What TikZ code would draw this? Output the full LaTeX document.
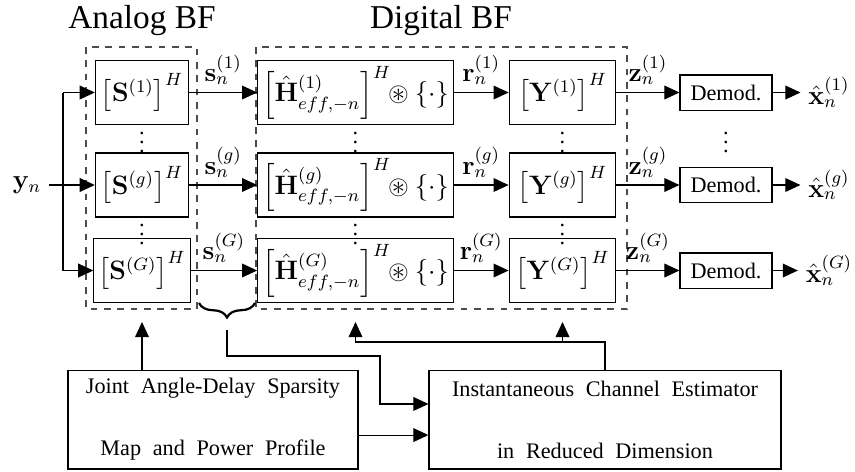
\documentclass[tikz,border=0pt]{standalone}
\usepackage{amsmath}
\usepackage{amssymb}
\usepackage{bm}
\usepackage[no-math]{fontspec}
\setmainfont{Liberation Serif}
\newfontfamily\widefont[WordSpace=2.1]{Liberation Serif}
\usetikzlibrary{arrows.meta,decorations.pathreplacing}

\begin{document}
\begin{tikzpicture}
  [x=0.45pt,y=-0.45pt,line width=0.5pt,>={Triangle[length=6.8pt,width=6.2pt]},
   blk/.style={draw,minimum height=28.8pt,inner sep=2pt,font=\large},
   dem/.style={draw,minimum width=41.4pt,minimum height=15.8pt,inner sep=1pt},
   bigblk/.style={draw,minimum height=44.5pt,align=center,font=\widefont},
   lbl/.style={font=\large}]
 \tikzset{dashbox/.style={draw=black!70,dashed}}

 \useasboundingbox (0,0) rectangle (855,471);

 % headers
 \node (abf) at (142,21) {\fontsize{15}{18}\selectfont Analog BF};
 \node (dbf) at (441,21) {\fontsize{15}{18}\selectfont Digital BF};
 \draw[dashbox] (86,47) rectangle (197,309);
 \draw[dashbox] (256,47) rectangle (627,309);

 % analog
 \node[blk,minimum width=42pt] (S1) at (142,92.5) {$\left[\mathbf{S}^{(1)}\right]^H$};
 \node[blk,minimum width=42pt] (Sg) at (142,185) {$\left[\mathbf{S}^{(g)}\right]^H$};
 \node[blk,minimum width=42pt] (SG) at (142,270.5) {$\left[\mathbf{S}^{(G)}\right]^H$};

 % digital
 \node[blk,minimum width=85pt] (H1) at (355.5,92.5) {$\left[\hat{\mathbf{H}}^{(1)}_{eff,-n}\right]^H\!\!\circledast\{\cdot\}$};
 \node[blk,minimum width=85pt] (Hg) at (355.5,185) {$\left[\hat{\mathbf{H}}^{(g)}_{eff,-n}\right]^H\!\!\circledast\{\cdot\}$};
 \node[blk,minimum width=85pt] (HG) at (355.5,270.5) {$\left[\hat{\mathbf{H}}^{(G)}_{eff,-n}\right]^H\!\!\circledast\{\cdot\}$};
 \node[blk,minimum width=48pt] (Y1) at (562.5,92.5) {$\left[\mathbf{Y}^{(1)}\right]^H$};
 \node[blk,minimum width=48pt] (Yg) at (562.5,185) {$\left[\mathbf{Y}^{(g)}\right]^H$};
 \node[blk,minimum width=48pt] (YG) at (562.5,270.5) {$\left[\mathbf{Y}^{(G)}\right]^H$};

 % demodulators
 \node[dem] (D1) at (726,92.5) {Demod.};
 \node[dem] (Dg) at (726,185) {Demod.};
 \node[dem] (DG) at (726,270.5) {Demod.};
 \node[lbl] (X1) at (829,92.5) {$\hat{\mathbf{x}}_n^{(1)}$};
 \node[lbl] (Xg) at (829,185) {$\hat{\mathbf{x}}_n^{(g)}$};
 \node[lbl] (XG) at (829,270.5) {$\hat{\mathbf{x}}_n^{(G)}$};

 % dots
 \foreach \c in {142,355.5,562.5}{
   \node (v1\c) at (\c,136) {$\vdots$};
   \node (v2\c) at (\c,228) {$\vdots$};
 }
 \node (vd) at (726,136) {$\vdots$};

 % input
 \node[lbl] (yn) at (27,185) {$\mathbf{y}_n$};
 \coordinate (up) at (63,92.5);
 \coordinate (dn) at (63,270.5);
 \draw[->] (yn) -- (Sg);
 \draw (up) -- (dn);
 \draw[->] (up) -- (S1);
 \draw[->] (dn) -- (SG);

 \foreach \r in {1,g,G}{
   \draw[->] (S\r) -- node[lbl,above] {$\mathbf{s}_n^{(\r)}$} (H\r);
   \draw[->] (H\r) -- node[lbl,above] {$\mathbf{r}_n^{(\r)}$} (Y\r);
   \draw[->] (Y\r) -- node[lbl,above] {$\mathbf{z}_n^{(\r)}$} (D\r);
   \draw[->] (D\r) -- (D\r -| X\r.west);
 }

 % lower blocks
 \node[bigblk,minimum width=130.5pt] (joint) at (213,419.5) {Joint Angle-Delay Sparsity\\[16pt]Map and Power Profile};
 \node[bigblk,minimum width=158.4pt] (est) at (605,419.5) {Instantaneous Channel Estimator\\[16pt]in Reduced Dimension};

 \coordinate (sin) at (142,322);
 \coordinate (hin) at (355.5,322);
 \coordinate (yin) at (562.5,322);
 \coordinate (fb) at (562.5,342);
 \coordinate (bt) at (227,330);

 \draw[->] (joint.north -| S1) -- (sin);
 \draw[->] (est.north) |- (fb) -| (hin);
 \draw[->] (fb) -- (yin);
 \draw[line width=1pt,decorate,decoration={brace,mirror,amplitude=6.5pt}] (199,303) -- (255,303);
 \draw[->] (bt) |- (380,356) |- ([yshift=7pt]est.west);
 \draw[->] ([yshift=-7pt]joint.east) -- ([yshift=-7pt]est.west);

\end{tikzpicture}
\end{document}
